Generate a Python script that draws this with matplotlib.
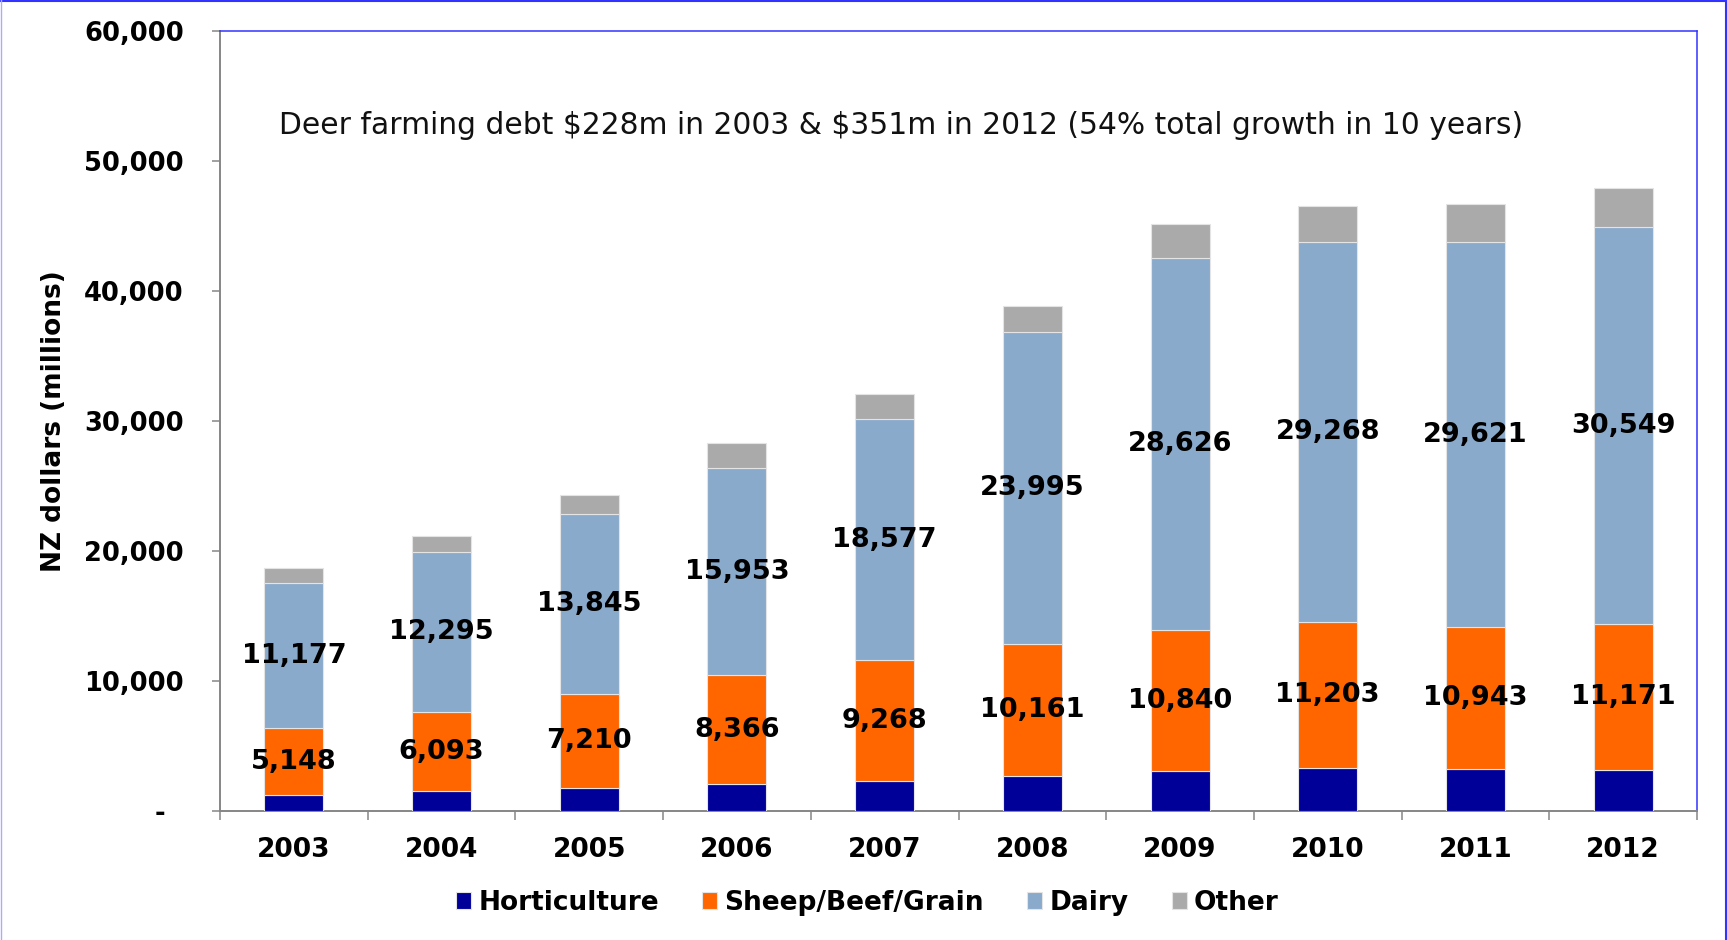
import numpy as np
import matplotlib
matplotlib.use("Agg")
import matplotlib.pyplot as plt
from matplotlib.lines import Line2D

# NZ farm debt by sector, NZ$ millions
years = ["2003", "2004", "2005", "2006", "2007", "2008", "2009", "2010", "2011", "2012"]
horticulture = [1190, 1480, 1750, 2030, 2290, 2640, 3040, 3270, 3180, 3150]
sheep_beef_grain = [5148, 6093, 7210, 8366, 9268, 10161, 10840, 11203, 10943, 11171]
dairy = [11177, 12295, 13845, 15953, 18577, 23995, 28626, 29268, 29621, 30549]
other = [1180, 1250, 1500, 1900, 1900, 2050, 2650, 2780, 2940, 3000]

series_names = ["Horticulture", "Sheep/Beef/Grain", "Dairy", "Other"]
series_colors = ["#000099", "#FF6600", "#8AAACC", "#AAAAAA"]

y_ticks = [0, 10000, 20000, 30000, 40000, 50000, 60000]
y_tick_labels = ["-  ", "10,000", "20,000", "30,000", "40,000", "50,000", "60,000"]

note = r"Deer farming debt \$228m in 2003 & \$351m in 2012 (54% total growth in 10 years)"

plt.rcParams["font.family"] = ["DejaVu Sans"]

W, H = 1727, 940
fig = plt.figure(figsize=(W / 100, H / 100), dpi=100)
ax = fig.add_axes([220 / W, 1 - 810.6 / H, (1697 - 220) / W, (810.6 - 30.7) / H])

x = np.arange(len(years))
bar_w = 0.40
edge = dict(edgecolor="#E4E4E4", linewidth=0.8)

bottom = np.zeros(len(years))
containers = []
for vals, name, col in zip([horticulture, sheep_beef_grain, dairy, other], series_names, series_colors):
    c = ax.bar(x, vals, bar_w, bottom=bottom, color=col, label=name, zorder=3, **edge)
    containers.append(c)
    bottom = bottom + np.array(vals)

for c, vals in [(containers[1], sheep_beef_grain), (containers[2], dairy)]:
    ax.bar_label(c, labels=[f"{v:,}" for v in vals], label_type="center",
                 fontsize=19.5, fontweight="bold", color="black", zorder=5)

ax.set_xlim(-0.5, len(years) - 0.5)
ax.set_ylim(0, 60000)

ax.set_yticks(y_ticks)
ax.set_yticklabels(y_tick_labels, fontsize=18.5, fontweight="bold")
ax.tick_params(axis="y", direction="out", length=6, width=1.1, color="#868686", pad=20)

ax.set_xticks(x)
ax.set_xticklabels(years, fontsize=19, fontweight="bold")
ax.tick_params(axis="x", which="major", length=0, pad=19)
ax.set_xticks(np.arange(-0.5, len(years), 1.0), minor=True)
ax.tick_params(axis="x", which="minor", direction="out", length=6.5, width=1.1, color="#868686")

for side in ("left", "bottom"):
    ax.spines[side].set_color("#868686")
    ax.spines[side].set_linewidth(1.4)
for side in ("top", "right"):
    ax.spines[side].set_color("#3333FF")
    ax.spines[side].set_linewidth(1.1)

ax.set_ylabel("NZ dollars (millions)", fontsize=19, fontweight="bold", va="center")
ax.yaxis.set_label_coords((54 - 220) / (1697 - 220), 0.5)

ax.text(-0.1, 52700, note, fontsize=21.45, ha="left", va="center", color="#111111")

fig.legend(handles=containers, labels=series_names, loc="center",
           bbox_to_anchor=(867.5 / W, 1 - 902.7 / H), ncol=4, frameon=False,
           prop=dict(weight="bold", size=19), handlelength=0.56, handleheight=0.6,
           handletextpad=0.28, columnspacing=1.64)

# outer frame
fig.add_artist(Line2D([0, 1], [1 - 0.8 / H, 1 - 0.8 / H], transform=fig.transFigure, color="#3333FF", lw=1.5))
fig.add_artist(Line2D([1 - 1.2 / W, 1 - 1.2 / W], [0, 1], transform=fig.transFigure, color="#3333FF", lw=1.5))
fig.add_artist(Line2D([0.6 / W, 0.6 / W], [0, 1], transform=fig.transFigure, color="#AAAAFF", lw=1.0))

fig.savefig("out.png", dpi=100, facecolor="white")
